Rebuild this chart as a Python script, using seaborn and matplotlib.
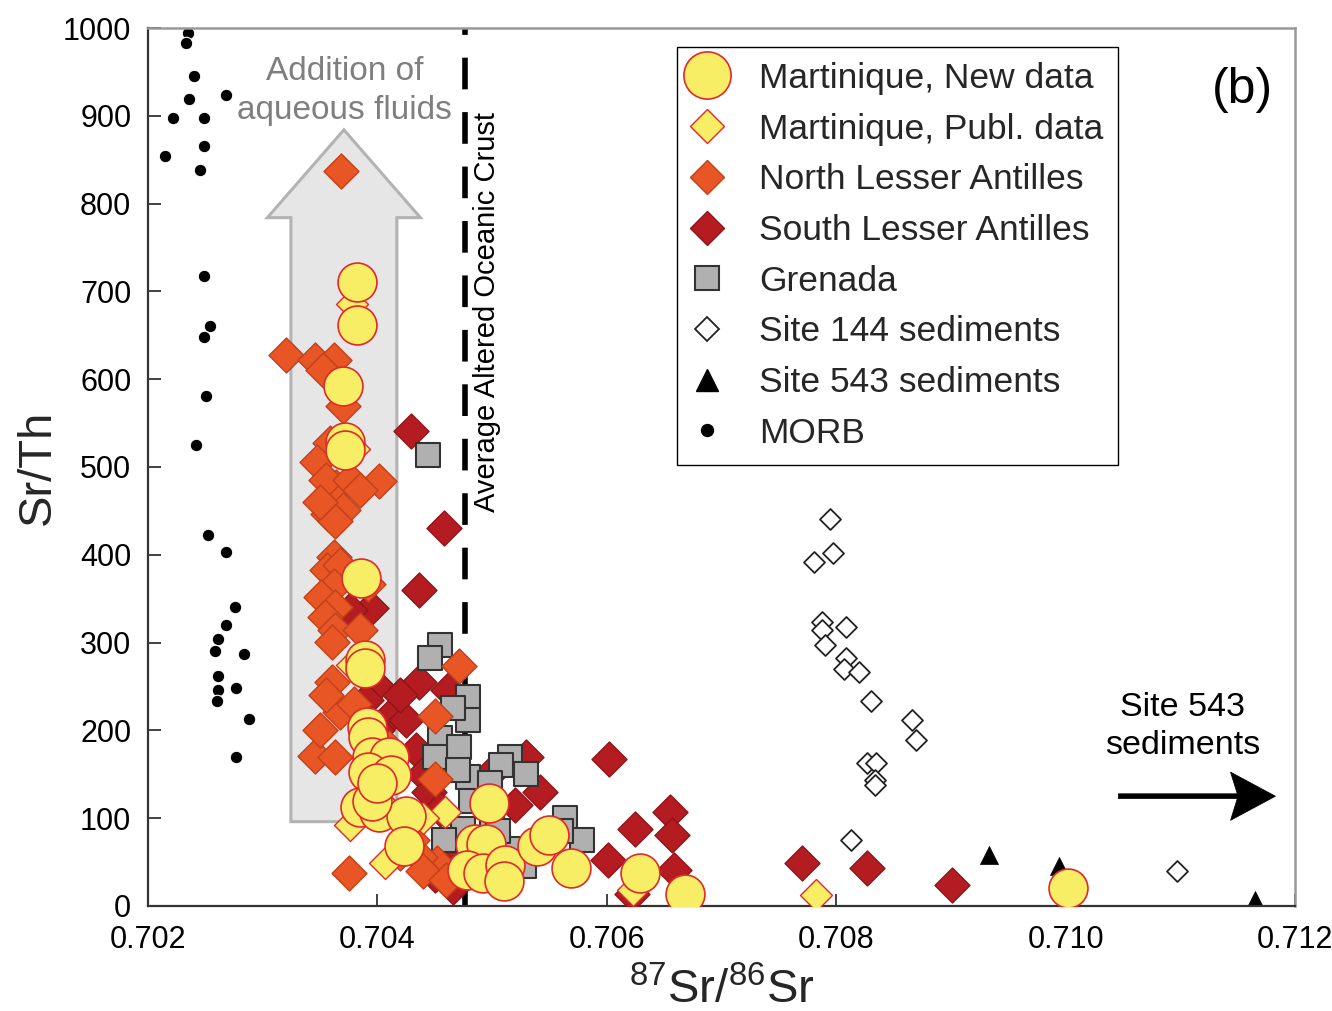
import matplotlib
matplotlib.use("Agg")
import matplotlib.pyplot as plt
from matplotlib.lines import Line2D
from matplotlib.patches import FancyArrow
import seaborn as sns
import pandas as pd

# ---- data: 87Sr/86Sr vs Sr/Th ----
morb_x = [0.70235, 0.70233, 0.70240, 0.70236, 0.70268, 0.70222, 0.70249, 0.70249, 0.70215,
          0.70245, 0.70249, 0.70254, 0.70249, 0.70251, 0.70242, 0.70252, 0.70268, 0.70276,
          0.70268, 0.70261, 0.70258, 0.70284, 0.70261, 0.70261, 0.70277, 0.70260, 0.70288,
          0.70277]
morb_y = [994, 983, 945, 919, 924, 898, 898, 866, 854, 838, 718, 661, 648, 581, 525, 423,
          403, 341, 320, 304, 290, 287, 262, 246, 248, 233, 213, 170]

site144_x = [0.70795, 0.70797, 0.70781, 0.70788, 0.70788, 0.70809, 0.70790, 0.70809, 0.70807,
             0.70820, 0.70830, 0.70866, 0.70870, 0.70827, 0.70835, 0.70834, 0.70834, 0.70813,
             0.71097]
site144_y = [441, 402, 392, 324, 314, 318, 297, 282, 270, 267, 233, 212, 189, 163, 163, 144,
             138, 75, 40]

site543_x = [0.70933, 0.70994, 0.71165]
site543_y = [58, 45, 7]

grenada_x = [0.70444, 0.70455, 0.70446, 0.70479, 0.70479, 0.70455, 0.70471, 0.70479, 0.70516,
             0.70508, 0.70498, 0.70482, 0.70500, 0.70475, 0.70458, 0.70490, 0.70520, 0.70528,
             0.70505, 0.70564, 0.70578, 0.70560, 0.70450, 0.70466, 0.70470, 0.70530]
grenada_y = [514, 297, 282, 238, 212, 191, 181, 147, 170, 160, 140, 120, 100, 88, 75, 60, 65,
             45, 85, 100, 75, 85, 170, 225, 155, 150]

south_x = [0.70429, 0.70458, 0.70436, 0.70394, 0.70376, 0.70436, 0.70462, 0.70399, 0.70411,
           0.70425, 0.70434, 0.70420, 0.70390, 0.70440, 0.70445, 0.70455, 0.70530, 0.70502,
           0.70542, 0.70520, 0.70602, 0.70625, 0.70655, 0.70657, 0.70601, 0.70659, 0.70622,
           0.70770, 0.70827, 0.70901, 0.70466, 0.70450, 0.70470, 0.70400]
south_y = [541, 431, 360, 339, 337, 255, 246, 252, 216, 212, 178, 240, 235, 150, 130, 110, 170,
           155, 130, 115, 167, 88, 107, 81, 52, 41, 14, 49, 43, 24, 22, 35, 60, 200]

north_x = [0.70368, 0.70320, 0.70346, 0.70362, 0.70353, 0.70370, 0.70359, 0.70347, 0.70364,
           0.70355, 0.70376, 0.70401, 0.70385, 0.70357, 0.70370, 0.70363, 0.70350, 0.70362,
           0.70356, 0.70367, 0.70392, 0.70362, 0.70351, 0.70363, 0.70354, 0.70363, 0.70360,
           0.70385, 0.70360, 0.70471, 0.70450, 0.70367, 0.70346, 0.70363, 0.70350, 0.70375,
           0.70452, 0.70437, 0.70450, 0.70420, 0.70430, 0.70440, 0.70460, 0.70410, 0.70380,
           0.70355]
north_y = [837, 628, 622, 622, 610, 569, 527, 506, 477, 485, 485, 484, 474, 447, 451, 438, 460,
           398, 383, 388, 367, 364, 352, 341, 329, 314, 301, 314, 255, 273, 216, 221, 171, 170,
           200, 37, 49, 56, 145, 60, 75, 40, 30, 180, 230, 240]

publ_x = [0.70378, 0.70376, 0.70407, 0.70459, 0.70623, 0.70782, 0.70380, 0.70378, 0.70395,
          0.70440]
publ_y = [686, 92, 49, 107, 18, 13, 520, 275, 130, 100]

new_x = [0.70382, 0.70382, 0.70370, 0.70372, 0.70372, 0.70386, 0.70389, 0.70389, 0.70391,
         0.70392, 0.70395, 0.70410, 0.70392, 0.70412, 0.70385, 0.70401, 0.70425, 0.70423,
         0.70497, 0.70485, 0.70495, 0.70478, 0.70492, 0.70511, 0.70510, 0.70539, 0.70550,
         0.70569, 0.70629, 0.70668, 0.71002, 0.70395, 0.70400]
new_y = [711, 662, 592, 529, 519, 373, 280, 271, 204, 193, 170, 170, 153, 149, 113, 107, 102,
         68, 117, 71, 71, 41, 37, 47, 28, 68, 81, 43, 37, 14, 21, 120, 140]

x_ticks = [0.702, 0.704, 0.706, 0.708, 0.710, 0.712]
x_tick_labels = ["0.702", "0.704", "0.706", "0.708", "0.710", "0.712"]
y_ticks = list(range(0, 1001, 100))

# ---- colours ----
YELLOW = "#F7EE66"
RED_EDGE = "#E3282A"
ORANGE = "#E75624"
ORANGE_EDGE = "#C2401C"
DARKRED = "#B51C22"
DARKRED_EDGE = "#8C1619"
GREY = "#B0B0B0"

sns.set_style("ticks")
plt.rcParams["font.family"] = ["Liberation Sans", "DejaVu Sans"]
plt.rcParams["mathtext.default"] = "regular"

fig = plt.figure(figsize=(13.32, 10.11), dpi=100)
ax = fig.add_axes([0.1111, 0.1039, 0.8611, 0.8684])

# grey "aqueous fluids" arrow
arrow = FancyArrow(0.703708, 96, 0, 788, width=0.000924, head_width=0.001334,
                   head_length=100, length_includes_head=True,
                   facecolor="#E6E6E6", edgecolor="#B3B3B3", linewidth=2.2, zorder=0)
ax.add_patch(arrow)

# average altered oceanic crust
ax.axvline(0.70476, color="black", lw=4, dashes=(5.7, 4.1), zorder=1)


def scatter(xs, ys, marker, s, fc, ec, lw, z):
    df = pd.DataFrame({"x": xs, "y": ys})
    sns.scatterplot(data=df, x="x", y="y", ax=ax, marker=marker, s=s, color=fc,
                    edgecolor=ec, linewidth=lw, legend=False, zorder=z)


scatter(morb_x, morb_y, "o", 81, "black", "white", 0.8, 2)
scatter(site144_x, site144_y, "D", 114, "white", "#222222", 1.3, 2)
scatter(site543_x, site543_y, "^", 169, "black", "black", 0.5, 2)
scatter(south_x, south_y, "D", 317, DARKRED, DARKRED_EDGE, 1.0, 3)
scatter(grenada_x, grenada_y, "s", 299, GREY, "#333333", 1.5, 4)
scatter(north_x, north_y, "D", 317, ORANGE, ORANGE_EDGE, 1.0, 5)
scatter(publ_x, publ_y, "D", 265, YELLOW, RED_EDGE, 1.0, 6)
scatter(new_x, new_y, "o", 784, YELLOW, RED_EDGE, 1.2, 7)

# text annotations
ax.text(0.703713, 928, "Addition of\naqueous fluids", ha="center", va="center",
        fontsize=24, color="#7F7F7F", linespacing=1.32, zorder=8)
ax.text(0.70496, 449, "Average Altered Oceanic Crust", rotation=90, ha="center",
        va="bottom", fontsize=21, color="black", zorder=8)
ax.text(0.71154, 929, "(b)", ha="center", va="center", fontsize=36, color="black")
ax.text(0.71102, 204, "Site 543\nsediments", ha="center", va="center", fontsize=24.5,
        linespacing=1.3, color="black")
ax.add_patch(FancyArrow(0.71046, 125, 0.00137, 0, width=5.5, head_width=55,
                        head_length=0.000392, length_includes_head=True, overhang=0.15,
                        facecolor="black", edgecolor="black", linewidth=0.5, zorder=8))

# axes styling
ax.set_xlim(0.702, 0.712)
ax.set_ylim(0, 1000)
ax.set_xticks(x_ticks)
ax.set_xticklabels(x_tick_labels)
ax.set_yticks(y_ticks)
ax.tick_params(direction="in", length=9, width=1.2, labelsize=22, colors="#222222",
               labelcolor="black")
ax.tick_params(axis="x", pad=14)
ax.tick_params(axis="y", pad=12)
for side in ("left", "bottom"):
    ax.spines[side].set_color("#333333")
    ax.spines[side].set_linewidth(1.6)
for side in ("top", "right"):
    ax.spines[side].set_visible(True)
    ax.spines[side].set_color("#999999")
    ax.spines[side].set_linewidth(1.8)

ax.set_xlabel("$^{87}$Sr/$^{86}$Sr", fontsize=34, labelpad=9)
ax.set_ylabel("Sr/Th", fontsize=34, labelpad=2)

# legend
handles = [
    Line2D([], [], ls="", marker="o", markersize=34, mfc=YELLOW, mec=RED_EDGE, mew=1.2),
    Line2D([], [], ls="", marker="D", markersize=17.5, mfc=YELLOW, mec=RED_EDGE, mew=1.0),
    Line2D([], [], ls="", marker="D", markersize=17.8, mfc=ORANGE, mec=ORANGE_EDGE, mew=1.0),
    Line2D([], [], ls="", marker="D", markersize=17.8, mfc=DARKRED, mec=DARKRED_EDGE, mew=1.0),
    Line2D([], [], ls="", marker="s", markersize=17, mfc=GREY, mec="#333333", mew=1.5),
    Line2D([], [], ls="", marker="D", markersize=12.5, mfc="white", mec="#222222", mew=1.3),
    Line2D([], [], ls="", marker="^", markersize=16, mfc="black", mec="black"),
    Line2D([], [], ls="", marker="o", markersize=8.6, mfc="black", mec="black"),
]
labels = ["Martinique, New data", "Martinique, Publ. data", "North Lesser Antilles",
          "South Lesser Antilles", "Grenada", "Site 144 sediments", "Site 543 sediments",
          "MORB"]
leg = ax.legend(handles, labels, loc="upper left", bbox_to_anchor=(0.4612, 0.9784),
                fontsize=25.5, frameon=True, fancybox=False, framealpha=1,
                edgecolor="black", labelspacing=0.5, handlelength=0.85,
                handletextpad=1.05, borderpad=0.42, borderaxespad=0)
leg.get_frame().set_linewidth(1.0)
leg.set_zorder(10)

fig.savefig("out.png", dpi=100)
